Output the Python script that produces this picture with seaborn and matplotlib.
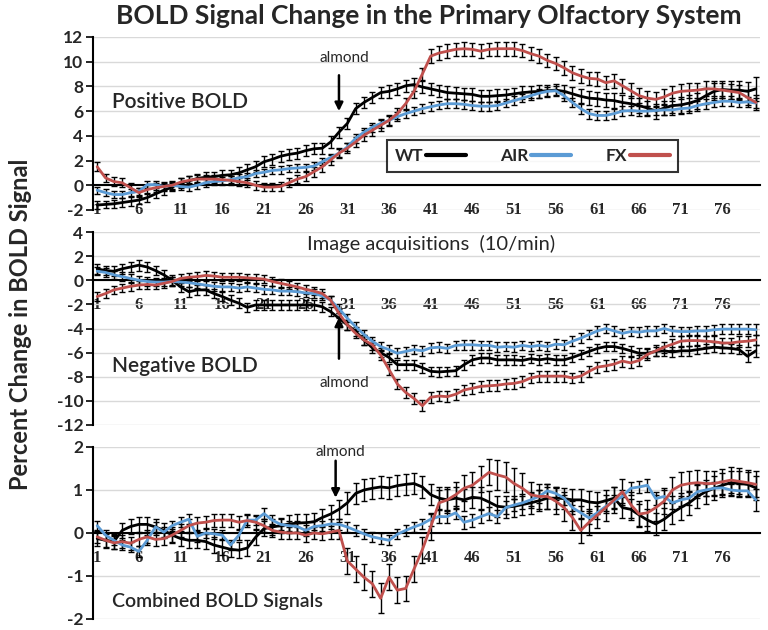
import numpy as np
import pandas as pd
import matplotlib
matplotlib.use("Agg")
import matplotlib.pyplot as plt
import seaborn as sns

# ---------------- data ----------------
acq = list(range(1, 81))
xtick_labels = ["1", "6", "11", "16", "21", "26", "31", "36", "41", "46", "51", "56", "61", "66", "71", "76"]
groups = ["WT", "AIR", "FX"]

top_wt = [-1.6, -1.55, -1.5, -1.4, -1.3, -1.2, -1.0, -0.7, -0.4, -0.15,
          0.2, 0.35, 0.55, 0.65, 0.7, 0.8, 0.85, 1.0, 1.25, 1.5,
          1.9, 2.1, 2.35, 2.5, 2.6, 2.8, 2.95, 3.0, 3.5, 4.3,
          5.0, 6.2, 6.7, 7.1, 7.5, 7.6, 7.8, 8.05, 8.15, 7.95,
          7.8, 7.65, 7.5, 7.45, 7.4, 7.35, 7.2, 7.2, 7.25, 7.3,
          7.4, 7.5, 7.55, 7.6, 7.65, 7.7, 7.6, 7.4, 7.2, 7.05,
          7.0, 6.9, 6.85, 6.7, 6.6, 6.45, 6.25, 6.0, 6.25, 6.45,
          6.5, 6.65, 6.85, 7.25, 7.6, 7.75, 7.7, 7.7, 7.6, 7.8]
top_air = [-0.4, -0.6, -0.75, -0.75, -0.6, -0.5, 0.05, 0.05, -0.1, 0.0,
           -0.1, -0.15, 0.0, 0.2, 0.3, 0.35, 0.45, 0.6, 0.7, 0.95,
           1.05, 1.2, 1.25, 1.35, 1.4, 1.45, 1.55, 1.9, 2.25, 2.6,
           3.1, 3.8, 4.3, 4.7, 5.0, 5.25, 5.55, 5.8, 6.0, 6.2,
           6.35, 6.5, 6.6, 6.6, 6.55, 6.45, 6.4, 6.4, 6.45, 6.65,
           6.85, 7.05, 7.25, 7.45, 7.6, 7.65, 7.25, 6.7, 6.2, 5.8,
           5.65, 5.65, 5.8, 6.0, 6.05, 6.0, 6.0, 6.05, 6.1, 6.1,
           6.2, 6.25, 6.45, 6.6, 6.7, 6.8, 6.8, 6.7, 6.75, 6.65]
top_fx = [1.5, 0.6, 0.3, 0.2, -0.2, -0.6, -0.35, -0.2, -0.1, 0.0,
          0.25, 0.4, 0.5, 0.5, 0.5, 0.45, 0.4, 0.3, 0.2, 0.0,
          -0.15, -0.15, -0.1, 0.2, 0.5, 0.7, 1.1, 1.5, 2.05, 2.6,
          3.0, 3.5, 4.05, 4.45, 4.85, 5.25, 5.8, 6.6, 7.6, 9.0,
          10.45, 10.7, 10.85, 11.0, 11.05, 11.0, 10.85, 11.0, 11.05, 11.05,
          11.05, 10.9, 10.65, 10.45, 10.1, 9.85, 9.5, 9.1, 8.85, 8.65,
          8.6, 8.3, 8.45, 8.05, 7.65, 7.25, 7.05, 6.95, 7.15, 7.45,
          7.6, 7.65, 7.7, 7.8, 7.8, 7.7, 7.6, 7.5, 7.1, 6.7]

top_wt_err = [0.3, 0.3, 0.3, 0.35, 0.35, 0.35, 0.35, 0.35, 0.35, 0.35,
              0.4, 0.4, 0.4, 0.4, 0.4, 0.4, 0.4, 0.45, 0.45, 0.45,
              0.45, 0.45, 0.45, 0.45, 0.45, 0.45, 0.45, 0.45, 0.45, 0.45,
              0.45, 0.45, 0.45, 0.45, 0.45, 0.5, 0.5, 0.5, 0.5, 0.5,
              0.5, 0.5, 0.5, 0.5, 0.5, 0.5, 0.5, 0.5, 0.5, 0.5,
              0.5, 0.5, 0.5, 0.5, 0.5, 0.5, 0.5, 0.55, 0.55, 0.55,
              0.55, 0.55, 0.6, 0.6, 0.6, 0.6, 0.6, 0.6, 0.6, 0.6,
              0.65, 0.65, 0.65, 0.65, 0.7, 0.7, 0.7, 0.7, 0.75, 1.0]
top_air_err = [0.3, 0.3, 0.3, 0.3, 0.3, 0.3, 0.3, 0.3, 0.3, 0.3,
               0.3, 0.3, 0.3, 0.3, 0.3, 0.3, 0.3, 0.3, 0.3, 0.3,
               0.3, 0.3, 0.3, 0.3, 0.3, 0.3, 0.3, 0.3, 0.3, 0.3,
               0.35, 0.35, 0.35, 0.35, 0.35, 0.35, 0.35, 0.35, 0.35, 0.35,
               0.35, 0.35, 0.35, 0.35, 0.35, 0.35, 0.35, 0.35, 0.35, 0.35,
               0.35, 0.35, 0.35, 0.35, 0.35, 0.35, 0.4, 0.4, 0.4, 0.4,
               0.4, 0.4, 0.4, 0.4, 0.4, 0.4, 0.4, 0.4, 0.4, 0.4,
               0.4, 0.4, 0.4, 0.4, 0.4, 0.4, 0.4, 0.4, 0.4, 0.4]
top_fx_err = [0.35, 0.35, 0.35, 0.35, 0.35, 0.35, 0.35, 0.35, 0.35, 0.35,
              0.35, 0.35, 0.35, 0.35, 0.35, 0.35, 0.35, 0.35, 0.35, 0.35,
              0.35, 0.35, 0.35, 0.35, 0.35, 0.35, 0.4, 0.4, 0.4, 0.4,
              0.4, 0.4, 0.45, 0.45, 0.45, 0.45, 0.45, 0.5, 0.5, 0.5,
              0.55, 0.55, 0.55, 0.55, 0.55, 0.55, 0.55, 0.55, 0.55, 0.55,
              0.55, 0.55, 0.55, 0.55, 0.55, 0.55, 0.55, 0.55, 0.55, 0.55,
              0.55, 0.55, 0.55, 0.55, 0.6, 0.6, 0.6, 0.6, 0.6, 0.6,
              0.6, 0.6, 0.6, 0.6, 0.6, 0.6, 0.6, 0.6, 0.6, 0.6]

mid_wt = [0.95, 0.8, 0.75, 0.95, 1.1, 1.25, 1.1, 0.8, 0.45, 0.0,
          -0.55, -0.95, -0.8, -0.8, -1.1, -1.35, -1.65, -1.9, -2.25, -2.05,
          -2.05, -2.05, -2.05, -2.05, -2.05, -2.05, -2.05, -2.2, -2.6, -3.15,
          -3.7, -4.25, -4.95, -5.6, -6.0, -6.4, -7.0, -7.0, -7.0, -7.25,
          -7.55, -7.6, -7.55, -7.5, -7.0, -6.6, -6.45, -6.45, -6.6, -6.6,
          -6.6, -6.65, -6.5, -6.6, -6.5, -6.6, -6.6, -6.4, -6.15, -5.9,
          -5.65, -5.5, -5.5, -5.65, -5.85, -6.05, -6.05, -5.9, -5.85, -5.95,
          -5.85, -5.85, -5.75, -5.65, -5.55, -5.6, -5.65, -5.75, -6.3, -5.85]
mid_air = [0.75, 0.65, 0.45, 0.3, 0.15, 0.0, -0.1, -0.15, -0.15, -0.1,
           -0.15, -0.2, -0.3, -0.4, -0.5, -0.55, -0.55, -0.65, -0.55, -0.65,
           -0.75, -0.8, -0.9, -0.9, -0.95, -1.05, -1.1, -1.3, -1.65, -2.35,
           -3.15, -3.85, -4.5, -5.05, -5.5, -5.75, -6.05, -5.9, -5.75, -5.85,
           -5.6, -5.55, -5.65, -5.4, -5.35, -5.35, -5.4, -5.4, -5.55, -5.5,
           -5.55, -5.4, -5.5, -5.4, -5.5, -5.3, -5.35, -5.05, -4.8, -4.5,
           -4.2, -4.0, -4.2, -4.4, -4.25, -4.3, -4.2, -4.2, -4.0, -4.2,
           -4.25, -4.25, -4.2, -4.2, -4.1, -4.05, -4.05, -4.05, -4.05, -4.1]
mid_fx = [-1.35, -1.1, -0.8, -0.65, -0.5, -0.4, -0.35, -0.4, -0.25, -0.1,
          0.15, 0.25, 0.3, 0.4, 0.35, 0.25, 0.25, 0.25, 0.2, 0.15,
          0.1, -0.1, -0.25, -0.4, -0.55, -0.75, -0.9, -1.1, -1.65, -2.75,
          -3.7, -4.4, -4.95, -5.35, -6.2, -7.4, -8.6, -9.3, -9.8, -10.4,
          -9.7, -9.6, -9.65, -9.45, -9.1, -8.95, -8.8, -8.75, -8.7, -8.6,
          -8.55, -8.4, -8.1, -7.95, -7.95, -7.95, -7.95, -8.1, -7.95, -7.55,
          -7.2, -7.1, -6.95, -6.7, -6.85, -6.65, -6.15, -5.85, -5.55, -5.3,
          -5.05, -5.0, -5.0, -5.05, -5.1, -5.2, -5.2, -5.1, -5.05, -4.95]

mid_wt_err = [0.4, 0.4, 0.4, 0.4, 0.4, 0.45, 0.4, 0.4, 0.4, 0.4,
              0.4, 0.4, 0.4, 0.4, 0.4, 0.4, 0.4, 0.4, 0.4, 0.4,
              0.4, 0.4, 0.4, 0.4, 0.4, 0.4, 0.4, 0.4, 0.4, 0.4,
              0.4, 0.4, 0.4, 0.4, 0.4, 0.4, 0.4, 0.4, 0.4, 0.4,
              0.4, 0.4, 0.4, 0.4, 0.4, 0.4, 0.4, 0.4, 0.4, 0.4,
              0.4, 0.4, 0.4, 0.4, 0.4, 0.4, 0.4, 0.4, 0.4, 0.4,
              0.4, 0.4, 0.4, 0.4, 0.4, 0.4, 0.4, 0.4, 0.4, 0.4,
              0.4, 0.4, 0.4, 0.4, 0.4, 0.4, 0.4, 0.4, 0.5, 0.5]
mid_air_err = [0.35, 0.35, 0.35, 0.35, 0.35, 0.35, 0.35, 0.35, 0.35, 0.35,
               0.35, 0.35, 0.35, 0.35, 0.35, 0.35, 0.35, 0.35, 0.35, 0.35,
               0.35, 0.35, 0.35, 0.35, 0.35, 0.35, 0.35, 0.35, 0.35, 0.35,
               0.35, 0.35, 0.35, 0.35, 0.35, 0.35, 0.4, 0.4, 0.4, 0.4,
               0.4, 0.4, 0.4, 0.4, 0.4, 0.4, 0.4, 0.4, 0.4, 0.4,
               0.4, 0.4, 0.4, 0.4, 0.4, 0.4, 0.4, 0.4, 0.4, 0.4,
               0.4, 0.4, 0.4, 0.4, 0.4, 0.4, 0.4, 0.4, 0.4, 0.4,
               0.4, 0.4, 0.4, 0.4, 0.4, 0.4, 0.4, 0.4, 0.4, 0.45]
mid_fx_err = [0.35, 0.35, 0.35, 0.35, 0.35, 0.35, 0.35, 0.35, 0.35, 0.35,
              0.35, 0.35, 0.35, 0.35, 0.35, 0.35, 0.35, 0.35, 0.35, 0.35,
              0.35, 0.35, 0.35, 0.35, 0.35, 0.35, 0.35, 0.35, 0.35, 0.4,
              0.4, 0.4, 0.4, 0.4, 0.45, 0.45, 0.45, 0.45, 0.45, 0.45,
              0.45, 0.45, 0.45, 0.45, 0.45, 0.45, 0.45, 0.45, 0.45, 0.45,
              0.45, 0.45, 0.45, 0.45, 0.45, 0.45, 0.45, 0.45, 0.45, 0.45,
              0.45, 0.45, 0.45, 0.45, 0.45, 0.45, 0.45, 0.45, 0.45, 0.45,
              0.45, 0.45, 0.45, 0.45, 0.45, 0.45, 0.45, 0.45, 0.45, 0.45]

bot_wt = [-0.13, -0.17, -0.2, 0.06, 0.15, 0.2, 0.2, 0.14, 0.06, -0.05,
          -0.13, -0.17, -0.17, -0.2, -0.28, -0.33, -0.38, -0.4, -0.35, -0.1,
          0.1, 0.14, 0.17, 0.21, 0.23, 0.24, 0.26, 0.36, 0.44, 0.55,
          0.7, 0.92, 1.0, 1.04, 1.07, 1.05, 1.1, 1.13, 1.15, 1.07,
          0.89, 0.81, 0.77, 0.81, 0.77, 0.83, 0.81, 0.72, 0.62, 0.6,
          0.62, 0.66, 0.7, 0.75, 0.81, 0.81, 0.8, 0.77, 0.77, 0.72,
          0.7, 0.75, 0.81, 0.59, 0.55, 0.42, 0.3, 0.21, 0.32, 0.47,
          0.59, 0.7, 0.85, 0.96, 1.04, 1.11, 1.17, 1.15, 1.13, 1.05]
bot_air = [0.17, -0.05, -0.17, -0.28, -0.33, -0.43, -0.17, 0.14, 0.02, 0.17,
           0.25, 0.32, -0.08, 0.0, -0.02, -0.05, -0.28, -0.05, 0.3, 0.3,
           0.45, 0.3, 0.2, 0.17, 0.15, 0.06, 0.15, 0.17, 0.21, 0.2,
           0.14, 0.06, -0.02, -0.09, -0.13, -0.17, -0.03, 0.06, 0.14, 0.21,
           0.32, 0.38, 0.38, 0.47, 0.25, 0.3, 0.38, 0.45, 0.38, 0.59,
           0.65, 0.7, 0.77, 0.85, 0.98, 0.92, 0.81, 0.59, 0.47, 0.35,
           0.47, 0.62, 0.74, 0.85, 1.04, 1.07, 1.11, 0.8, 0.85, 0.7,
           0.77, 0.81, 0.96, 1.0, 1.04, 1.05, 1.0, 0.98, 0.98, 0.77]
bot_fx = [-0.09, -0.17, -0.23, -0.2, -0.24, -0.15, -0.09, -0.15, -0.13, -0.05,
          0.06, 0.17, 0.23, 0.25, 0.29, 0.3, 0.3, 0.25, 0.29, 0.25,
          0.17, 0.06, 0.02, 0.0, 0.0, -0.05, 0.0, -0.02, 0.02, 0.06,
          -0.65, -0.84, -1.03, -1.18, -1.52, -1.03, -1.33, -1.29, -0.84, -0.39,
          0.14, 0.7, 0.77, 0.89, 1.04, 1.11, 1.26, 1.41, 1.35, 1.3,
          1.15, 1.04, 0.89, 0.85, 0.85, 0.74, 0.59, 0.36, 0.06, 0.25,
          0.42, 0.59, 0.77, 0.96, 0.66, 0.44, 0.47, 0.59, 0.74, 1.0,
          1.11, 1.15, 1.17, 1.15, 1.15, 1.19, 1.23, 1.2, 1.17, 1.13]

bot_wt_err = [0.18, 0.18, 0.18, 0.18, 0.18, 0.18, 0.18, 0.18, 0.18, 0.18,
              0.18, 0.18, 0.18, 0.18, 0.18, 0.18, 0.18, 0.18, 0.18, 0.18,
              0.18, 0.18, 0.18, 0.2, 0.2, 0.2, 0.2, 0.2, 0.22, 0.22,
              0.25, 0.25, 0.25, 0.25, 0.25, 0.25, 0.25, 0.25, 0.25, 0.25,
              0.25, 0.25, 0.25, 0.25, 0.25, 0.25, 0.25, 0.25, 0.25, 0.25,
              0.25, 0.25, 0.25, 0.25, 0.25, 0.25, 0.25, 0.25, 0.25, 0.25,
              0.25, 0.25, 0.25, 0.25, 0.25, 0.25, 0.25, 0.25, 0.25, 0.25,
              0.28, 0.28, 0.28, 0.28, 0.28, 0.28, 0.28, 0.28, 0.28, 0.28]
bot_air_err = [0.12, 0.12, 0.12, 0.12, 0.12, 0.12, 0.12, 0.12, 0.12, 0.12,
               0.12, 0.12, 0.12, 0.12, 0.12, 0.12, 0.12, 0.12, 0.12, 0.12,
               0.12, 0.12, 0.12, 0.12, 0.12, 0.12, 0.12, 0.12, 0.12, 0.12,
               0.12, 0.12, 0.12, 0.12, 0.12, 0.12, 0.12, 0.12, 0.12, 0.12,
               0.15, 0.15, 0.15, 0.15, 0.15, 0.15, 0.15, 0.15, 0.15, 0.15,
               0.15, 0.15, 0.15, 0.15, 0.15, 0.15, 0.15, 0.15, 0.15, 0.15,
               0.15, 0.15, 0.15, 0.15, 0.15, 0.15, 0.15, 0.15, 0.15, 0.15,
               0.15, 0.15, 0.15, 0.15, 0.15, 0.15, 0.15, 0.15, 0.15, 0.25]
bot_fx_err = [0.15, 0.15, 0.15, 0.15, 0.15, 0.15, 0.15, 0.15, 0.15, 0.15,
              0.15, 0.15, 0.15, 0.15, 0.15, 0.15, 0.15, 0.15, 0.15, 0.15,
              0.15, 0.15, 0.15, 0.15, 0.15, 0.15, 0.15, 0.15, 0.15, 0.2,
              0.3, 0.3, 0.3, 0.3, 0.35, 0.3, 0.3, 0.3, 0.3, 0.3,
              0.3, 0.3, 0.3, 0.3, 0.3, 0.3, 0.3, 0.3, 0.35, 0.35,
              0.35, 0.35, 0.3, 0.3, 0.3, 0.3, 0.3, 0.3, 0.3, 0.3,
              0.3, 0.3, 0.3, 0.3, 0.3, 0.3, 0.3, 0.3, 0.3, 0.3,
              0.3, 0.3, 0.3, 0.3, 0.3, 0.3, 0.3, 0.3, 0.3, 0.3]

# ---------------- style ----------------
sns.set_style("white")
plt.rcParams["font.family"] = ["Lato", "DejaVu Sans"]
plt.rcParams["axes.linewidth"] = 1.5

colors = {"WT": "#000000", "AIR": "#5B9BD5", "FX": "#C0504D"}

fig = plt.figure(figsize=(7.68, 6.3), dpi=100)

panels = [
    dict(rect=[0.1211, 0.6667, 0.8685, 0.2746], ylim=(-2, 12), yticks=np.arange(-2, 13, 2),
         vals=(top_wt, top_air, top_fx), errs=(top_wt_err, top_air_err, top_fx_err)),
    dict(rect=[0.1211, 0.3254, 0.8685, 0.3063], ylim=(-12, 4), yticks=np.arange(-12, 5, 2),
         vals=(mid_wt, mid_air, mid_fx), errs=(mid_wt_err, mid_air_err, mid_fx_err)),
    dict(rect=[0.1211, 0.0175, 0.8685, 0.2730], ylim=(-2, 2), yticks=np.arange(-2, 3, 1),
         vals=(bot_wt, bot_air, bot_fx), errs=(bot_wt_err, bot_air_err, bot_fx_err)),
]

serif_bold = dict(family=["Liberation Serif", "DejaVu Serif"], size=12, weight="bold")

axes = []
for k, p in enumerate(panels):
    ax = fig.add_axes(p["rect"])
    axes.append(ax)
    rows = []
    for g, v in zip(groups, p["vals"]):
        for a, val in zip(acq, v):
            rows.append((a, val, g))
    df = pd.DataFrame(rows, columns=["acq", "value", "group"])
    for g, e in zip(groups, p["errs"]):
        sub = df[df.group == g]
        ax.errorbar(sub["acq"], sub["value"], yerr=e, fmt="none", ecolor="black",
                    elinewidth=1.0, capsize=2.4, capthick=1.0, zorder=3)
    sns.lineplot(data=df, x="acq", y="value", hue="group", hue_order=groups,
                 palette=colors, linewidth=2.0, ax=ax, legend=(k == 0), zorder=4,
                 estimator=None)
    ax.set_xlim(0.5, 80.5)
    ax.set_ylim(*p["ylim"])
    ax.set_yticks(p["yticks"])
    ax.set_yticklabels([f"{int(t)}" for t in p["yticks"]], fontsize=12.5, fontweight="bold")
    ax.yaxis.grid(True, color="#d9d9d9", linewidth=1.0)
    ax.set_axisbelow(True)
    ax.set_xlabel("")
    ax.set_ylabel("")
    for s in ["top", "right"]:
        ax.spines[s].set_visible(False)
    ax.spines["bottom"].set_position(("data", 0))
    ax.spines["bottom"].set_zorder(2)
    ax.spines["left"].set_color("black")
    ax.spines["bottom"].set_color("black")
    ax.set_xticks(np.arange(1, 80, 5))
    ax.set_xticklabels(xtick_labels, fontdict=serif_bold)
    ax.set_xticks(np.arange(0.5, 81, 1), minor=True)
    ax.tick_params(axis="x", which="major", length=0, pad=12)
    ax.tick_params(axis="x", which="minor", length=8, width=1.2, direction="inout", color="black")
    ax.tick_params(axis="y", which="major", length=5, width=1.2, direction="out", color="black", pad=2, left=True)
    ax.patch.set_alpha(0)

# panel labels
axes[0].text(2.8, 6.7, "Positive BOLD", fontsize=15, fontweight="semibold", ha="left", va="center")
axes[1].text(2.8, -7.1, "Negative BOLD", fontsize=15, fontweight="semibold", ha="left", va="center")
axes[2].text(2.8, -1.6, "Combined BOLD Signals", fontsize=14, fontweight="semibold", ha="left", va="center")
axes[1].text(41.1, 3.0, "Image acquisitions  (10/min)", fontsize=14.5, ha="center", va="center")

# almond arrows
arrow = dict(arrowstyle="-|>", lw=1.8, color="black", mutation_scale=12, shrinkA=0, shrinkB=0)
axes[0].text(30.6, 10.3, "almond", fontsize=11, ha="center", va="center")
axes[0].annotate("", xy=(30, 6.0), xytext=(30, 8.9), arrowprops=arrow)
axes[1].text(30.6, -8.5, "almond", fontsize=11, ha="center", va="center")
axes[1].annotate("", xy=(30, -3.1), xytext=(30, -6.5), arrowprops=arrow)
axes[2].text(30.2, 1.89, "almond", fontsize=11, ha="center", va="center")
axes[2].annotate("", xy=(29.6, 0.82), xytext=(29.6, 1.68), arrowprops=arrow)

# legend
handles, labels = axes[0].get_legend_handles_labels()
leg = axes[0].legend(handles, labels, ncol=3, markerfirst=False, frameon=True, fancybox=False,
                     loc="center", bbox_to_anchor=(0.693, 0.752), bbox_transform=fig.transFigure,
                     prop=dict(size=12.5, weight="bold"), handlelength=2.3, columnspacing=2.0,
                     handletextpad=0.15, borderpad=0.45, borderaxespad=0)
leg.get_frame().set_edgecolor("black")
leg.get_frame().set_linewidth(1.5)
for line in leg.get_lines():
    line.set_linewidth(3)

fig.text(0.559, 0.975, "BOLD Signal Change in the Primary Olfactory System",
         fontsize=19, fontweight="bold", ha="center", va="center")
fig.text(0.027, 0.486, "Percent Change in BOLD Signal", fontsize=17, fontweight="bold",
         rotation=90, ha="center", va="center")

fig.savefig("out.png", dpi=100)
